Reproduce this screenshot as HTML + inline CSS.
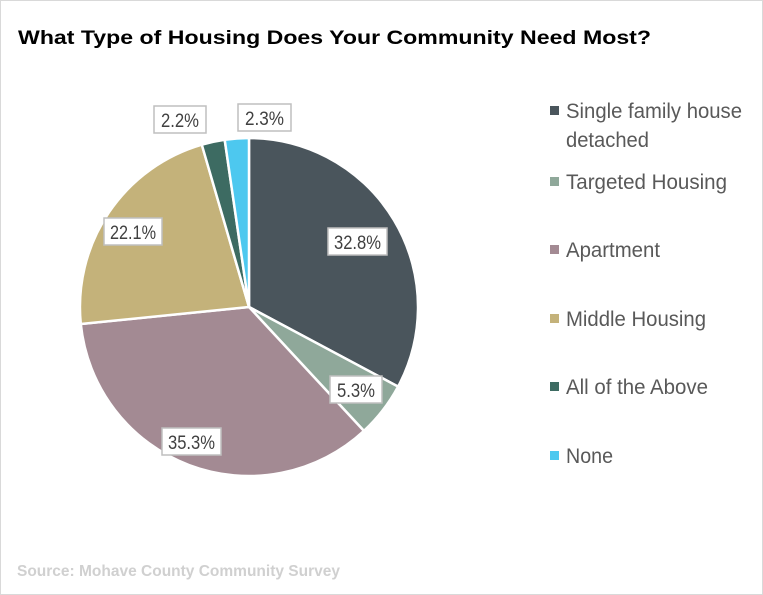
<!DOCTYPE html>
<html><head><meta charset="utf-8"><style>
body{margin:0;background:#fff;}
svg{display:block;}
text{font-family:"Liberation Sans",sans-serif;}
</style></head><body>
<svg width="763" height="595" viewBox="0 0 763 595">
<rect x="0.5" y="0.5" width="762" height="594" fill="#fff" stroke="#d9d9d9"/>
<text x="18" y="44" font-weight="bold" font-size="19.5" fill="#000" textLength="633" lengthAdjust="spacingAndGlyphs">What Type of Housing Does Your Community Need Most?</text>
<g stroke="#fff" stroke-width="2.5" stroke-linejoin="round">
<path d="M249,307 L249,138 A169,169 0 0 1 398.1,386.6 Z" fill="#4a555c"/>
<path d="M249,307 L398.1,386.6 A169,169 0 0 1 363.9,430.9 Z" fill="#8fa89a"/>
<path d="M249,307 L363.9,430.9 A169,169 0 0 1 80.8,324.0 Z" fill="#a38a93"/>
<path d="M249,307 L80.8,324.0 A169,169 0 0 1 201.8,144.7 Z" fill="#c4b27a"/>
<path d="M249,307 L201.8,144.7 A169,169 0 0 1 224.7,139.8 Z" fill="#3d6b62"/>
<path d="M249,307 L224.7,139.8 A169,169 0 0 1 249,138 Z" fill="#4dc8ef"/>
</g>
<g fill="#fff" stroke="#bfbfbf" stroke-width="1.5">
<rect x="328" y="228" width="59" height="27"/>
<rect x="330" y="376" width="52" height="27"/>
<rect x="162" y="428" width="59" height="27"/>
<rect x="104" y="218" width="58" height="27"/>
<rect x="154" y="106" width="52" height="27"/>
<rect x="238" y="104" width="53" height="27"/>
</g>
<g font-size="19" fill="#404040" lengthAdjust="spacingAndGlyphs">
<text x="334" y="249" textLength="47" lengthAdjust="spacingAndGlyphs">32.8%</text>
<text x="337" y="397" textLength="38" lengthAdjust="spacingAndGlyphs">5.3%</text>
<text x="168" y="449" textLength="47" lengthAdjust="spacingAndGlyphs">35.3%</text>
<text x="110" y="239" textLength="46" lengthAdjust="spacingAndGlyphs">22.1%</text>
<text x="161" y="127" textLength="38" lengthAdjust="spacingAndGlyphs">2.2%</text>
<text x="245" y="125" textLength="39" lengthAdjust="spacingAndGlyphs">2.3%</text>
</g>
<g font-size="21" fill="#595959">
<rect x="550" y="106" width="9" height="9" fill="#4a555c"/>
<text x="566" y="118" textLength="176" lengthAdjust="spacingAndGlyphs">Single family house</text>
<text x="566" y="147" textLength="83" lengthAdjust="spacingAndGlyphs">detached</text>
<rect x="550" y="177" width="9" height="9" fill="#8fa89a"/>
<text x="566" y="189" textLength="161" lengthAdjust="spacingAndGlyphs">Targeted Housing</text>
<rect x="550" y="245" width="9" height="9" fill="#a38a93"/>
<text x="566" y="257" textLength="94" lengthAdjust="spacingAndGlyphs">Apartment</text>
<rect x="550" y="314" width="9" height="9" fill="#c4b27a"/>
<text x="566" y="326" textLength="140" lengthAdjust="spacingAndGlyphs">Middle Housing</text>
<rect x="550" y="382" width="9" height="9" fill="#3d6b62"/>
<text x="566" y="394" textLength="142" lengthAdjust="spacingAndGlyphs">All of the Above</text>
<rect x="550" y="451" width="9" height="9" fill="#4dc8ef"/>
<text x="566" y="463" textLength="47" lengthAdjust="spacingAndGlyphs">None</text>
</g>
<text x="17" y="576" font-size="15.5" font-weight="bold" fill="#d0d0d0" textLength="323" lengthAdjust="spacingAndGlyphs">Source: Mohave County Community Survey</text>
</svg>
</body></html>
